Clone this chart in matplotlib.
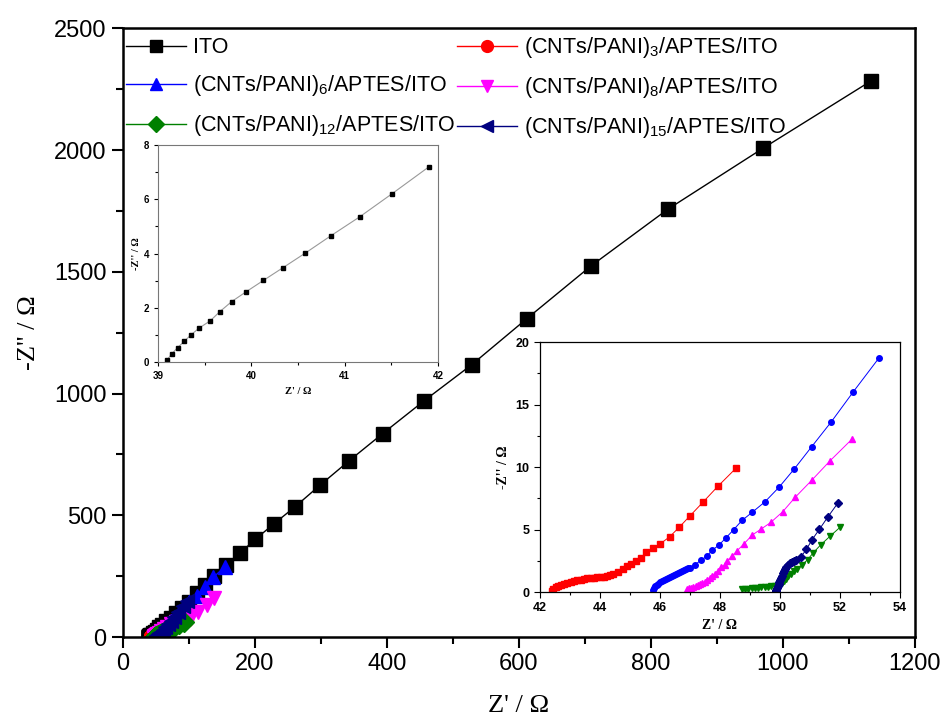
import numpy as np
import matplotlib
matplotlib.use("Agg")
import matplotlib.pyplot as plt
from matplotlib.ticker import MultipleLocator

plt.rcParams["font.family"] = ["Liberation Sans", "DejaVu Sans"]
plt.rcParams["mathtext.fontset"] = "custom"
plt.rcParams["mathtext.rm"] = "Liberation Sans"
plt.rcParams["mathtext.it"] = "Liberation Sans"

# --- ITO (Z', -Z'') in ohm; first 17 points = high frequency zoom -----------
ito_x = [39.10, 39.15, 39.21, 39.28, 39.35, 39.44, 39.56, 39.66, 39.79, 39.94,
         40.13, 40.34, 40.58, 40.85, 41.16, 41.51, 41.90,
         43.3, 45.5, 48.3, 51.6, 55.5, 60.2, 65.8, 72.5, 80.5, 90, 101, 113,
         125, 139, 157, 178, 201, 229, 261, 299, 343, 394, 456, 529, 612,
         709, 826, 970, 1134]
ito_y = [0.09, 0.31, 0.53, 0.76, 0.99, 1.25, 1.52, 1.85, 2.23, 2.58,
         3.01, 3.48, 4.02, 4.65, 5.35, 6.21, 7.19,
         10.5, 15.5, 22, 30, 39.5, 51, 64.5, 80.5, 99, 121, 146, 180,
         213, 250, 296, 346, 402, 465, 535, 624, 724, 836, 969, 1119, 1307,
         1523, 1757, 2007, 2284]
n_ito_hf = 17

# --- multilayers: high-frequency part (inset) + low-frequency tail ---------
p3_x = [42.39, 42.44, 42.52, 42.61, 42.70, 42.80, 42.91, 43.02, 43.13, 43.24,
        43.36, 43.47, 43.58, 43.69, 43.80, 43.91, 44.02, 44.13, 44.24, 44.33,
        44.44, 44.60, 44.76, 44.90, 45.04, 45.20, 45.37, 45.54, 45.78, 46.02,
        46.33, 46.64, 47.01, 47.43, 47.93, 48.53]
p3_y = [0.11, 0.24, 0.37, 0.51, 0.59, 0.67, 0.75, 0.80, 0.85, 0.93,
        0.99, 1.04, 1.09, 1.12, 1.15, 1.17, 1.20, 1.23, 1.28, 1.36,
        1.47, 1.63, 1.84, 2.05, 2.24, 2.48, 2.75, 3.17, 3.49, 3.87,
        4.43, 5.17, 6.11, 7.17, 8.45, 9.89]
p3_x_lf = [51, 54, 58, 62, 67, 73, 80, 88, 96]
p3_y_lf = [14, 19, 25, 32, 40, 48, 56, 64, 72]

p6_x = [45.78, 45.80, 45.84, 45.89, 45.94, 46.00, 46.07, 46.13, 46.20, 46.27,
        46.33, 46.40, 46.47, 46.53, 46.60, 46.67, 46.73, 46.80, 46.87, 46.93,
        47.02, 47.18, 47.36, 47.56, 47.74, 47.97, 48.20, 48.46, 48.74, 49.09,
        49.51, 49.98, 50.49, 51.07, 51.72, 52.46, 53.32]
p6_y = [0.19, 0.32, 0.45, 0.56, 0.67, 0.77, 0.88, 0.96, 1.04, 1.12,
        1.20, 1.25, 1.33, 1.41, 1.49, 1.57, 1.65, 1.73, 1.81, 1.89,
        1.92, 2.19, 2.53, 2.85, 3.33, 3.76, 4.32, 4.99, 5.73, 6.40,
        7.23, 8.40, 9.87, 11.65, 13.63, 16.05, 18.77]
p6_x_lf = [56, 59.5, 63.5, 68, 73, 79, 86, 93, 101, 112, 124, 137, 155]
p6_y_lf = [25, 33, 42, 53, 66, 82, 101, 120, 143, 170, 204, 245, 289]

p8_x = [46.89, 46.96, 47.03, 47.11, 47.19, 47.27, 47.34, 47.42, 47.50, 47.58,
        47.66, 47.74, 47.83, 47.93, 48.04, 48.16, 48.24, 48.41, 48.58, 48.80,
        49.08, 49.36, 49.70, 50.10, 50.51, 51.06, 51.68, 52.41]
p8_y = [0.24, 0.29, 0.35, 0.40, 0.45, 0.53, 0.61, 0.72, 0.83, 0.96,
        1.09, 1.25, 1.44, 1.68, 2.00, 2.19, 2.48, 2.88, 3.31, 3.84,
        4.56, 5.01, 5.57, 6.43, 7.57, 8.93, 10.51, 12.24]
p8_x_lf = [55, 58, 62, 67, 73, 80, 88, 97, 105, 114, 127, 139]
p8_y_lf = [18, 26, 34, 43, 52, 62, 73, 82, 92, 104, 131, 159]

p12_x = [48.74, 48.83, 48.94, 49.06, 49.17, 49.28, 49.39, 49.50, 49.61, 49.72,
         49.83, 49.91, 50.00, 50.07, 50.13, 50.20, 50.28, 50.37, 50.46, 50.56,
         50.74, 50.93, 51.11, 51.36, 51.67, 52.02]
p12_y = [0.24, 0.24, 0.27, 0.29, 0.32, 0.35, 0.37, 0.40, 0.43, 0.45,
         0.48, 0.51, 0.59, 0.72, 0.88, 1.07, 1.25, 1.44, 1.65, 1.87,
         2.16, 2.59, 3.12, 3.76, 4.45, 5.20]
p12_x_lf = [54, 56.5, 59.5, 63, 67, 72, 78, 85, 93]
p12_y_lf = [8, 11.5, 16, 21, 27, 34, 43, 53, 63]

p15_x = [49.87, 49.89, 49.91, 49.93, 49.96, 49.98, 50.00, 50.03, 50.07, 50.10,
         50.13, 50.18, 50.22, 50.28, 50.33, 50.40, 50.47, 50.53, 50.71, 50.89,
         51.07, 51.32, 51.61, 51.93]
p15_y = [0.05, 0.19, 0.32, 0.45, 0.61, 0.77, 0.93, 1.12, 1.31, 1.49,
         1.68, 1.87, 2.03, 2.19, 2.32, 2.40, 2.48, 2.56, 2.83, 3.41,
         4.16, 5.01, 6.03, 7.09]
p15_x_lf = [53.5, 55.5, 58, 61, 64.5, 68.5, 73, 78, 84, 91, 98]
p15_y_lf = [11, 16.5, 23, 31, 41, 53, 67, 84, 104, 126, 150]

labels = ["ITO",
          r"(CNTs/PANI)$_{3}$/APTES/ITO",
          r"(CNTs/PANI)$_{6}$/APTES/ITO",
          r"(CNTs/PANI)$_{8}$/APTES/ITO",
          r"(CNTs/PANI)$_{12}$/APTES/ITO",
          r"(CNTs/PANI)$_{15}$/APTES/ITO"]

colors = ["black", "#ff0000", "#0000ff", "#ff00ff", "#008000", "#000080"]
main_markers = ["s", "o", "^", "v", "D", "<"]
inset_markers = ["s", "o", "^", "v", "D"]  # as drawn in the original zoom

samples = [(p3_x, p3_y, p3_x_lf, p3_y_lf),
           (p6_x, p6_y, p6_x_lf, p6_y_lf),
           (p8_x, p8_y, p8_x_lf, p8_y_lf),
           (p12_x, p12_y, p12_x_lf, p12_y_lf),
           (p15_x, p15_y, p15_x_lf, p15_y_lf)]

fig = plt.figure(figsize=(9.44, 7.24), dpi=100)
ax = fig.add_axes([0.130, 0.120, 0.839, 0.841])

handles = []
h, = ax.plot(ito_x, ito_y, color=colors[0], marker=main_markers[0], ms=10, lw=1)
handles.append(h)
for i, (hx, hy, lx, ly) in enumerate(samples):
    h, = ax.plot(hx + lx, hy + ly, color=colors[i + 1],
                 marker=main_markers[i + 1], ms=10, lw=1)
    handles.append(h)

ax.set_xlim(0, 1200)
ax.set_ylim(0, 2500)
ax.xaxis.set_major_locator(MultipleLocator(200))
ax.xaxis.set_minor_locator(MultipleLocator(100))
ax.yaxis.set_major_locator(MultipleLocator(500))
ax.yaxis.set_minor_locator(MultipleLocator(250))
ax.tick_params(which="major", length=8, width=1.5, labelsize=17, direction="out")
ax.tick_params(which="minor", length=5, width=1.5, direction="out")
for s in ax.spines.values():
    s.set_linewidth(1.8)
ax.set_xlabel("Z' / \u03a9", family="Liberation Serif", fontsize=19, labelpad=14)
ax.set_ylabel("-Z'' / \u03a9", family="Liberation Serif", fontsize=19, labelpad=10)

# legend fills row by row in the original: reorder for column-major filling
order = [0, 2, 4, 1, 3, 5]
ax.legend([handles[k] for k in order], [labels[k] for k in order],
          ncol=2, loc="upper left", bbox_to_anchor=(-0.012, 1.01), frameon=False,
          fontsize=15.5, handlelength=2.8, handletextpad=0.3, columnspacing=0.1,
          labelspacing=0.7, borderaxespad=0.2, markerscale=0.85)

# --- inset 1: ITO high-frequency region -------------------------------------
ax1 = fig.add_axes([0.1674, 0.500, 0.2966, 0.2997])
ax1.plot(ito_x[:n_ito_hf], ito_y[:n_ito_hf], color="#999999", lw=0.8,
         marker="s", ms=3.5, mfc="black", mec="black")
ax1.set_xlim(39, 42)
ax1.set_ylim(0, 8)
ax1.xaxis.set_major_locator(MultipleLocator(1))
ax1.xaxis.set_minor_locator(MultipleLocator(0.5))
ax1.yaxis.set_major_locator(MultipleLocator(2))
ax1.yaxis.set_minor_locator(MultipleLocator(1))
ax1.tick_params(which="both", labelsize=7, width=0.8, direction="out")
ax1.tick_params(which="major", length=3)
ax1.tick_params(which="minor", length=2)
for t in ax1.get_xticklabels() + ax1.get_yticklabels():
    t.set_fontweight("bold")
for s in ax1.spines.values():
    s.set_linewidth(0.8)
    s.set_color("#777777")
ax1.set_xlabel("Z' / \u03a9", family="Liberation Serif", fontsize=7.5,
               fontweight="bold", labelpad=4)
ax1.set_ylabel("-Z'' / \u03a9", family="Liberation Serif", fontsize=7.5,
               fontweight="bold", labelpad=2)

# --- inset 2: multilayers high-frequency region -----------------------------
ax2 = fig.add_axes([0.572, 0.1823, 0.381, 0.345])
for i, (hx, hy, lx, ly) in enumerate(samples):
    ax2.plot(hx, hy, color=colors[i + 1], marker=inset_markers[i], ms=4,
             lw=0.7)
ax2.set_xlim(42, 54)
ax2.set_ylim(0, 20)
ax2.xaxis.set_major_locator(MultipleLocator(2))
ax2.xaxis.set_minor_locator(MultipleLocator(1))
ax2.yaxis.set_major_locator(MultipleLocator(5))
ax2.yaxis.set_minor_locator(MultipleLocator(2.5))
ax2.tick_params(which="both", labelsize=9, width=0.8, direction="out")
ax2.tick_params(which="major", length=4)
ax2.tick_params(which="minor", length=2.5)
for t in ax2.get_xticklabels() + ax2.get_yticklabels():
    t.set_fontweight("bold")
for s in ax2.spines.values():
    s.set_linewidth(0.9)
ax2.set_xlabel("Z' / \u03a9", family="Liberation Serif", fontsize=10,
               fontweight="bold", labelpad=3)
ax2.set_ylabel("-Z'' / \u03a9", family="Liberation Serif", fontsize=10,
               fontweight="bold", labelpad=4)

fig.savefig("out.png", dpi=100)
